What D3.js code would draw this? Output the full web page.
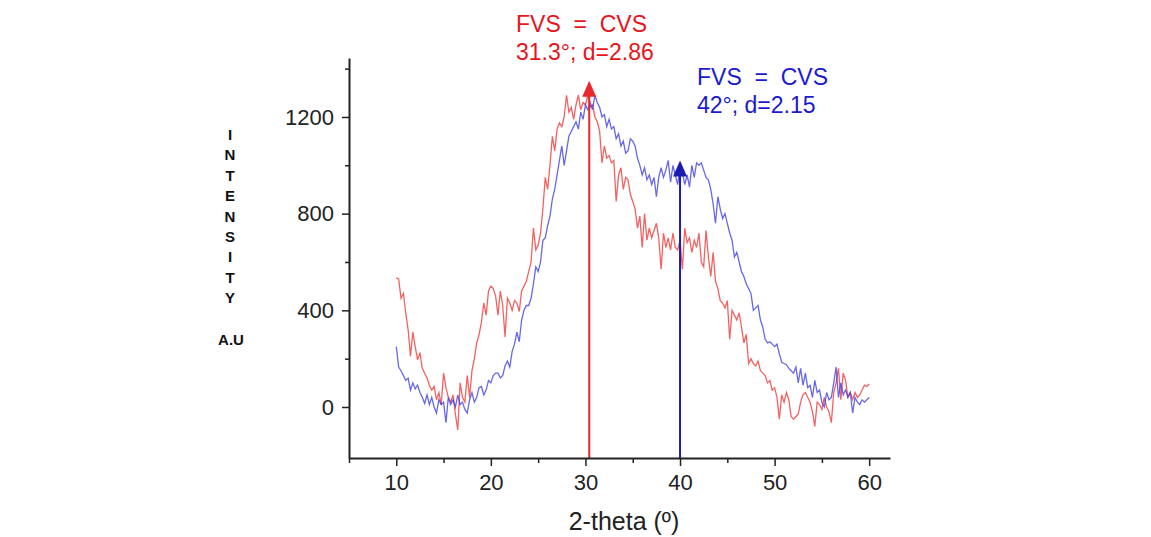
<!DOCTYPE html>
<html>
<head>
<meta charset="utf-8">
<script src="https://cdn.jsdelivr.net/npm/d3@7"></script>
<style>
	body { margin: 0; background: #fff; }
	text { font-family: "Liberation Sans", Arial, sans-serif; }
</style>
</head>
<body>
<svg id="chart" width="1151" height="537"></svg>
<script>
// 2-theta grid: 10 .. 60, step 0.25
var thetaStart = 10, thetaStep = 0.25;

// red pattern (FVS = CVS, 31.3)
var redCounts = [
	534, 530, 450, 470, 390, 320, 210, 310, 250, 195, 225, 160, 140, 120, 90, 70, 85, 30, 60, 10,
	140, 80, 40, 20, 50, -30, -95, 100, 40, 20, 130, 40, 150, 200, 265, 300, 350, 430, 380, 480,
	500, 490, 460, 380, 480, 420, 290, 450, 430, 400, 440, 430, 395, 480, 500, 520, 560, 600, 740, 650,
	670, 720, 820, 950, 900, 1000, 1120, 1060, 1150, 1175, 1160, 1200, 1290, 1220, 1240, 1190, 1250, 1290, 1230, 1260,
	1250, 1290, 1240, 1250, 1200, 1180, 1140, 1010, 1080, 1030, 1040, 1010, 1020, 850, 960, 990, 900, 950, 940, 880,
	850, 820, 740, 790, 660, 800, 690, 740, 700, 730, 760, 700, 570, 720, 660, 700, 650, 720, 660, 650,
	690, 570, 740, 680, 700, 640, 690, 660, 720, 600, 580, 730, 620, 540, 640, 520, 490, 440, 430, 410,
	440, 280, 400, 380, 360, 390, 330, 265, 300, 180, 200, 180, 170, 190, 150, 140, 130, 100, 110, 70,
	80, 40, -50, 50, 20, 60, 30, -40, -50, -40, -30, 20, 50, 60, 40, 20, -20, -80, 20, 10,
	-10, 40, 0, -20, -65, 60, 100, 160, 30, 140, 110, 40, 60, 30, 60, 40, 50, 70, 90, 85,
	95
];

// blue pattern (FVS = CVS, 42)
var blueCounts = [
	250, 165, 150, 130, 110, 120, 70, 100, 75, 90, 60, 40, 15, 50, 10, 40, 0, -25, 30, 10,
	20, -65, 40, 10, 30, 0, 50, 10, 20, -10, -25, 30, 60, 20, 40, 80, 85, 50, 70, 110,
	100, 130, 140, 140, 120, 130, 170, 190, 165, 230, 260, 310, 270, 360, 400, 420, 420, 450, 510, 580,
	560, 600, 690, 700, 750, 790, 860, 900, 960, 1020, 1080, 1000, 1060, 1120, 1140, 1160, 1180, 1150, 1220, 1190,
	1250, 1230, 1260, 1230, 1290, 1260, 1240, 1200, 1210, 1160, 1190, 1150, 1160, 1110, 1130, 1080, 1100, 1050, 1060, 1110,
	1100, 1080, 1030, 1000, 960, 990, 940, 960, 920, 950, 870, 950, 990, 950, 980, 1020, 930, 1000, 960, 920,
	990, 970, 920, 960, 910, 1000, 950, 1010, 1000, 1010, 980, 950, 940, 900, 840, 760, 870, 820, 780, 800,
	760, 720, 690, 620, 640, 600, 560, 540, 510, 490, 470, 400, 410, 420, 360, 330, 280, 265, 270, 260,
	250, 260, 220, 185, 180, 175, 160, 150, 140, 165, 100, 160, 90, 140, 80, 90, 40, 110, 60, 70,
	20, 0, 60, 30, 40, 100, 165, 40, 100, 50, 70, 40, 60, -25, 40, 20, 10, 30, 20, 30,
	40
];

// peak markers: position, arrow tip height, labels
var peakTheta = [30.4, 40];
var peakTip = [1350, 1020];
var peakLabels = [["FVS  =  CVS", "31.3°; d=2.86"], ["FVS  =  CVS", "42°; d=2.15"]];

var xMajor = [10, 20, 30, 40, 50, 60];
var xMinor = [5, 15, 25, 35, 45, 55];
var yMajor = [0, 400, 800, 1200];
var yMinor = [200, 600, 1000, 1400];

var yLetters = ["I", "N", "T", "E", "N", "S", "I", "T", "Y"];

var svg = d3.select("#chart");

var x = d3.scaleLinear().domain([5, 62.2]).range([349, 890]);
var y = d3.scaleLinear().domain([-211, 1444]).range([458, 58]);

function toPoints(counts) {
	return counts.map(function(v, i) { return [thetaStart + i * thetaStep, v]; });
}

var line = d3.line()
	.x(function(d) { return x(d[0]); })
	.y(function(d) { return y(d[1]); });

// curves
svg.append("path")
	.datum(toPoints(redCounts))
	.attr("d", line)
	.attr("fill", "none")
	.attr("stroke", "#f03a3a")
	.attr("stroke-opacity", 0.8)
	.attr("stroke-width", 1.3);

svg.append("path")
	.datum(toPoints(blueCounts))
	.attr("d", line)
	.attr("fill", "none")
	.attr("stroke", "#3434e4")
	.attr("stroke-opacity", 0.75)
	.attr("stroke-width", 1.3);

// arrows
var arrowColors = ["#e8282a", "#1c1cb0"];
peakTheta.forEach(function(t, i) {
	var px = x(t), tip = y(peakTip[i]);
	svg.append("line")
		.attr("x1", px).attr("x2", px)
		.attr("y1", y(-211)).attr("y2", tip + 10)
		.attr("stroke", arrowColors[i])
		.attr("stroke-width", 2);
	svg.append("path")
		.attr("d", "M" + px + "," + tip + "L" + (px + 7) + "," + (tip + 16) + "L" + (px - 7) + "," + (tip + 16) + "Z")
		.attr("fill", arrowColors[i]);
});

// annotation text
var labelPos = [[516, 32, 60], [697, 85, 113]];
var labelColors = ["#e8141c", "#1a1ad0"];
peakLabels.forEach(function(lines, i) {
	lines.forEach(function(s, j) {
		svg.append("text")
			.attr("x", labelPos[i][0])
			.attr("y", labelPos[i][1 + j])
			.attr("fill", labelColors[i])
			.attr("font-size", 23)
			.style("white-space", "pre")
			.text(s);
	});
});

// axes
svg.append("g")
	.attr("transform", "translate(0," + y(-211) + ")")
	.call(d3.axisBottom(x).tickValues(xMajor).tickSize(8).tickSizeOuter(0).tickPadding(8).tickFormat(d3.format("d")));
svg.append("g")
	.attr("transform", "translate(0," + y(-211) + ")")
	.call(d3.axisBottom(x).tickValues(xMinor).tickSize(5).tickFormat(""))
	.select(".domain").remove();

svg.append("g")
	.attr("transform", "translate(" + x(5) + ",0)")
	.call(d3.axisLeft(y).tickValues(yMajor).tickSize(7).tickSizeOuter(0).tickPadding(8).tickFormat(d3.format("d")));
svg.append("g")
	.attr("transform", "translate(" + x(5) + ",0)")
	.call(d3.axisLeft(y).tickValues(yMinor).tickSize(4).tickFormat(""))
	.select(".domain").remove();

svg.selectAll(".domain").attr("stroke", "#222").attr("stroke-width", 2);
svg.selectAll(".tick line").attr("stroke", "#222").attr("stroke-width", 1.5);
svg.selectAll(".tick text")
	.attr("font-family", "Liberation Sans, Arial, sans-serif")
	.attr("font-size", 22)
	.attr("fill", "#222");

// axis titles
svg.append("text")
	.attr("x", 624).attr("y", 530)
	.attr("text-anchor", "middle")
	.attr("font-size", 25)
	.attr("fill", "#222")
	.text("2-theta (º)");

svg.selectAll(".ylet")
	.data(yLetters)
	.enter().append("text")
		.attr("class", "ylet")
		.attr("x", 230)
		.attr("y", function(d, i) { return 140 + i * 20.4; })
		.attr("text-anchor", "middle")
		.attr("font-size", 15)
		.attr("font-weight", "bold")
		.attr("fill", "#111")
		.text(function(d) { return d; });

svg.append("text")
	.attr("x", 231).attr("y", 345)
	.attr("text-anchor", "middle")
	.attr("font-size", 15)
	.attr("font-weight", "bold")
	.attr("fill", "#111")
	.text("A.U");
</script>
</body>
</html>
